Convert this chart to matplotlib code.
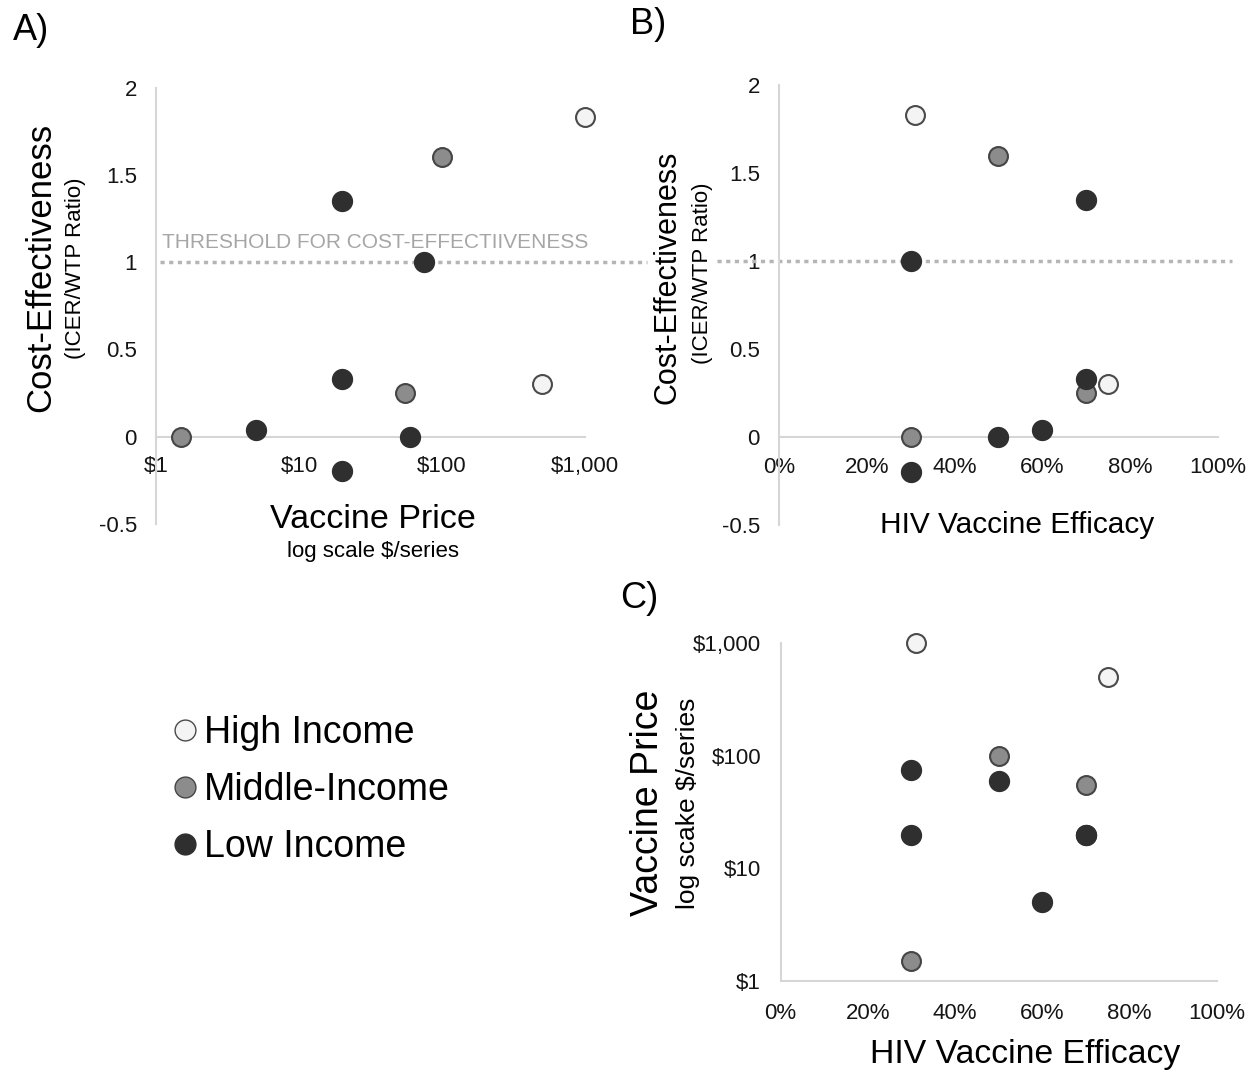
import matplotlib
matplotlib.use("Agg")
import matplotlib.pyplot as plt
import matplotlib.transforms as mtransforms
from matplotlib.lines import Line2D
from matplotlib.ticker import FixedLocator, FixedFormatter, NullLocator

plt.rcParams['font.family'] = ['Liberation Sans', 'DejaVu Sans']

# ---------------- data ----------------
income = ['High', 'High', 'Middle', 'Middle', 'Middle',
          'Low', 'Low', 'Low', 'Low', 'Low', 'Low']
price = [1000, 500, 100, 55, 1.5, 20, 75, 20, 5, 60, 20]          # $ / series
efficacy = [31, 75, 50, 70, 30, 70, 30, 70, 60, 50, 30]           # %
ce_ratio = [1.83, 0.30, 1.60, 0.25, 0.0, 1.35, 1.0, 0.33, 0.04, 0.0, -0.2]

groups = ['High', 'Middle', 'Low']
group_labels = ['High Income', 'Middle-Income', 'Low Income']
threshold = 1.0
threshold_label = 'THRESHOLD FOR COST-EFFECTIIVENESS'

price_ticks = [1, 10, 100, 1000]
price_ticklabels = ['$1', '$10', '$100', '$1,000']
eff_ticks = [0, 20, 40, 60, 80, 100]
eff_ticklabels = ['0%', '20%', '40%', '60%', '80%', '100%']
ce_ticks = [-0.5, 0, 0.5, 1, 1.5, 2]
ce_ticklabels = ['-0.5', '0', '0.5', '1', '1.5', '2']

# ---------------- styles ----------------
style = {
    'High':   dict(facecolor='#f4f4f4', edgecolor='#4a4a4a', s=185, linewidths=1.5, zorder=3),
    'Middle': dict(facecolor='#8c8c8c', edgecolor='#454545', s=185, linewidths=1.5, zorder=3),
    'Low':    dict(facecolor='#2f2f2f', edgecolor='#2f2f2f', s=205, linewidths=1.0, zorder=4),
}
AXIS_GRAY = '#d6d6d6'
TICK_FS = 16

W, H = 1249, 1074
fig = plt.figure(figsize=(W / 100, H / 100), dpi=100)


def fx(px):
    return px / W


def fy(py):
    return 1 - py / H


def rect(l, r, t, b):
    return [fx(l), fy(b), fx(r) - fx(l), fy(t) - fy(b)]


def scatter_groups(ax, xs, ys):
    for g in groups:
        gx = [x for x, gg in zip(xs, income) if gg == g]
        gy = [y for y, gg in zip(ys, income) if gg == g]
        ax.scatter(gx, gy, clip_on=False, **style[g])


def style_axes(ax, zero_axis):
    for side in ['top', 'right']:
        ax.spines[side].set_visible(False)
    for side in ['left', 'bottom']:
        ax.spines[side].set_color(AXIS_GRAY)
        ax.spines[side].set_linewidth(1.5)
    if zero_axis:
        ax.spines['bottom'].set_position(('data', 0))
    ax.tick_params(axis='both', length=0, labelsize=TICK_FS, colors='#151515')
    ax.tick_params(axis='y', pad=14)
    ax.tick_params(axis='x', pad=14)
    ax.set_facecolor('none')


# ---------------- Panel A ----------------
axA = fig.add_axes(rect(156.3, 584.5, 87.5, 523.8))
axA.set_xscale('log')
axA.set_xlim(price_ticks[0], price_ticks[-1])
axA.set_ylim(ce_ticks[0], ce_ticks[-1])
axA.xaxis.set_major_locator(FixedLocator(price_ticks))
axA.xaxis.set_major_formatter(FixedFormatter(price_ticklabels))
axA.xaxis.set_minor_locator(NullLocator())
axA.set_yticks(ce_ticks)
axA.set_yticklabels(ce_ticklabels)
style_axes(axA, True)
scatter_groups(axA, price, ce_ratio)

# ---------------- Panel B ----------------
axB = fig.add_axes(rect(779.2, 1217.7, 85.2, 525.3))
axB.set_xlim(eff_ticks[0], eff_ticks[-1])
axB.set_ylim(ce_ticks[0], ce_ticks[-1])
axB.set_xticks(eff_ticks)
axB.set_xticklabels(eff_ticklabels)
axB.set_yticks(ce_ticks)
axB.set_yticklabels(ce_ticklabels)
style_axes(axB, True)
scatter_groups(axB, efficacy, ce_ratio)

# ---------------- Panel C ----------------
axC = fig.add_axes(rect(780.5, 1217.0, 643.3, 981.0))
axC.set_yscale('log')
axC.set_ylim(price_ticks[0], price_ticks[-1])
axC.set_xlim(eff_ticks[0], eff_ticks[-1])
axC.yaxis.set_major_locator(FixedLocator(price_ticks))
axC.yaxis.set_major_formatter(FixedFormatter(price_ticklabels))
axC.yaxis.set_minor_locator(NullLocator())
axC.set_xticks(eff_ticks)
axC.set_xticklabels(eff_ticklabels)
style_axes(axC, False)
axC.tick_params(axis='x', pad=16)
scatter_groups(axC, efficacy, price)

# ---------------- threshold lines ----------------
dot_kw = dict(color='#b5b5b5', lw=2.5, linestyle=(0, (1.2, 1.3)), clip_on=False, zorder=2,
              solid_capstyle='butt', dash_capstyle='butt')
trA = mtransforms.blended_transform_factory(fig.transFigure, axA.transData)
axA.plot([fx(160), fx(647)], [threshold, threshold], transform=trA, **dot_kw)
trB = mtransforms.blended_transform_factory(fig.transFigure, axB.transData)
axB.plot([fx(717), fx(1232)], [threshold, threshold], transform=trB, **dot_kw)
fig.text(fx(161.5), fy(242), threshold_label, fontsize=15, color='#a6a6a6',
         ha='left', va='center')

# ---------------- axis titles ----------------
fig.text(fx(41), fy(267.5), 'Cost-Effectiveness', rotation=90, fontsize=25,
         ha='center', va='center')
fig.text(fx(75.5), fy(268.5), '(ICER/WTP Ratio)', rotation=90, fontsize=16,
         ha='center', va='center')
fig.text(fx(373), fy(520), 'Vaccine Price', fontsize=24.5, ha='center', va='center')
fig.text(fx(373), fy(551), 'log scale $/series', fontsize=16, ha='center', va='center')

fig.text(fx(668), fy(277.5), 'Cost-Effectiveness', rotation=90, fontsize=22,
         ha='center', va='center')
fig.text(fx(702), fy(273.5), '(ICER/WTP Ratio)', rotation=90, fontsize=16,
         ha='center', va='center')
fig.text(fx(1017), fy(525), 'HIV Vaccine Efficacy', fontsize=21.5, ha='center', va='center')

fig.text(fx(647.6), fy(803), 'Vaccine Price', rotation=90, fontsize=27,
         ha='center', va='center')
fig.text(fx(688), fy(803), 'log scake $/series', rotation=90, fontsize=19,
         ha='center', va='center')
fig.text(fx(1025.5), fy(1055), 'HIV Vaccine Efficacy', fontsize=24.3, ha='center', va='center')

# ---------------- panel letters ----------------
fig.text(fx(13), fy(31), 'A)', fontsize=26, ha='left', va='center')
fig.text(fx(630), fy(25), 'B)', fontsize=26, ha='left', va='center')
fig.text(fx(620), fy(598), 'C)', fontsize=26, ha='left', va='center')

# ---------------- legend ----------------
handles = [Line2D([], [], linestyle='none', marker='o', markersize=15,
                  markerfacecolor=style[g]['facecolor'],
                  markeredgecolor=style[g]['edgecolor'], markeredgewidth=1.0)
           for g in groups]
fig.legend(handles, group_labels, loc='center left',
           bbox_to_anchor=(fx(174), fy(790)), frameon=False, fontsize=27,
           handlelength=0.6, handletextpad=0.2, borderpad=0, borderaxespad=0,
           labelspacing=0.55)

fig.savefig('out.png', dpi=100)
